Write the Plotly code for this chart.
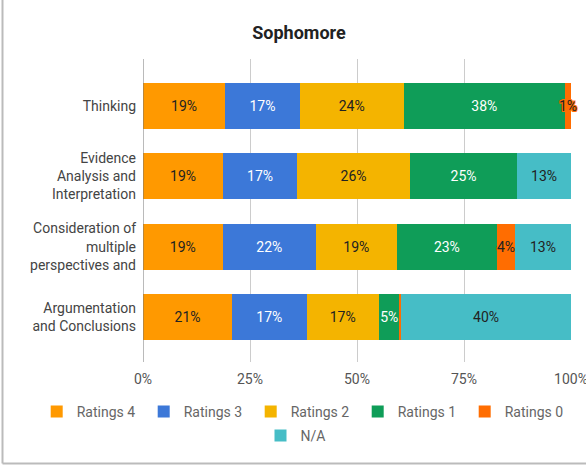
import plotly.graph_objects as go

categories = ["Thinking", "Evidence<br>Analysis and<br>Interpretation",
              "Consideration of<br>multiple<br>perspectives and",
              "Argumentation<br>and Conclusions"]
series_names = ["Ratings 4", "Ratings 3", "Ratings 2", "Ratings 1", "Ratings 0", "N/A"]
ratings4 = [19.2, 18.7, 18.6, 20.8]
ratings3 = [17.4, 17.3, 21.8, 17.4]
ratings2 = [24.3, 26.4, 18.9, 16.9]
ratings1 = [37.7, 25.0, 23.4, 4.9]
ratings0 = [1.4, 0.0, 4.2, 0.3]
na = [0.0, 12.6, 13.1, 39.7]
tick_vals = [0, 25, 50, 75, 100]
tick_text = ["0%", "25%", "50%", "75%", "100%"]

series_values = [ratings4, ratings3, ratings2, ratings1, ratings0, na]
colors = ["#ff9900", "#3c78d8", "#f4b400", "#0f9d58", "#ff6d01", "#46bdc6"]
text_colors = ["#222222", "#ffffff", "#222222", "#ffffff", "#222222", "#222222"]
halo = ("1px 0px 0px #ff6d01, -1px 0px 0px #ff6d01, 0px 1px 0px #ff6d01, "
        "0px -1px 0px #ff6d01, 1px 1px 0px #ff6d01, -1px -1px 0px #ff6d01, "
        "1px -1px 0px #ff6d01, -1px 1px 0px #ff6d01")

fig = go.Figure()
for i, (name, vals) in enumerate(zip(series_names, series_values)):
    tf = dict(family="Roboto", size=14, color=text_colors[i])
    if name == "Ratings 0":
        tf["shadow"] = halo
    fig.add_trace(go.Bar(
        y=categories, x=vals, name=name, orientation="h",
        marker=dict(color=colors[i], line=dict(width=0)),
        text=[f"{round(v)}%" if v >= 1 else "" for v in vals],
        textposition="inside", insidetextanchor="middle",
        constraintext="none", textangle=0, cliponaxis=False,
        textfont=tf,
        legend="legend" if i < 5 else "legend2",
        hoverinfo="skip",
    ))

plot_top, plot_bottom = 59, 362
plot_h = plot_bottom - plot_top

fig.update_layout(
    width=586, height=467,
    barmode="stack", bargap=0.346,
    paper_bgcolor="white", plot_bgcolor="white",
    margin=dict(l=143, r=15, t=plot_top, b=467 - plot_bottom, autoexpand=False),
    font=dict(family="Roboto", size=14, color="#555555"),
    title=dict(text="<b>Sophomore</b>", x=299 / 586, xref="container", xanchor="center",
               y=1 - 33 / 467, yref="container", yanchor="middle",
               font=dict(family="Roboto", size=18, color="#222222")),
    xaxis=dict(range=[0, 100], tickvals=tick_vals, ticktext=tick_text,
               showgrid=True, gridcolor="#cccccc", gridwidth=1,
               zeroline=False, showline=False, ticks="", automargin=False,
               ticklabeloverflow="allow", ticklabelstandoff=7,
               tickfont=dict(size=14, color="#555555"), fixedrange=True),
    yaxis=dict(range=[3.637, -0.664], ticks="", showgrid=False, automargin=False,
               tickfont=dict(size=14, color="#444444"), ticklabelstandoff=6),
    legend=dict(orientation="h", x=(36.7 - 143) / 428, xref="paper", xanchor="left",
                y=(plot_bottom - 412) / plot_h, yref="paper", yanchor="middle",
                entrywidth=62, font=dict(size=14, color="#666666"),
                itemwidth=30, traceorder="normal"),
    legend2=dict(orientation="h", x=295.5 / 586, xref="container", xanchor="center",
                 y=1 - 436 / 467, yref="container", yanchor="middle",
                 font=dict(size=14, color="#666666"), itemwidth=30),
    shapes=[
        dict(type="line", xref="x", yref="paper", x0=0, x1=0, y0=0, y1=1,
             line=dict(color="#777777", width=1)),
        dict(type="line", xref="paper", yref="paper",
             x0=(2.5 - 143) / 428, x1=(2.5 - 143) / 428,
             y0=(plot_bottom - 463.5) / plot_h, y1=1.3,
             line=dict(color="#bbbbbb", width=2)),
        dict(type="line", xref="paper", yref="paper",
             x0=(2.5 - 143) / 428, x1=1.1,
             y0=(plot_bottom - 463.5) / plot_h, y1=(plot_bottom - 463.5) / plot_h,
             line=dict(color="#bbbbbb", width=2)),
    ],
)

fig.write_html("out.html", config={"displayModeBar": False},
               post_script="document.body.style.margin='0';")
